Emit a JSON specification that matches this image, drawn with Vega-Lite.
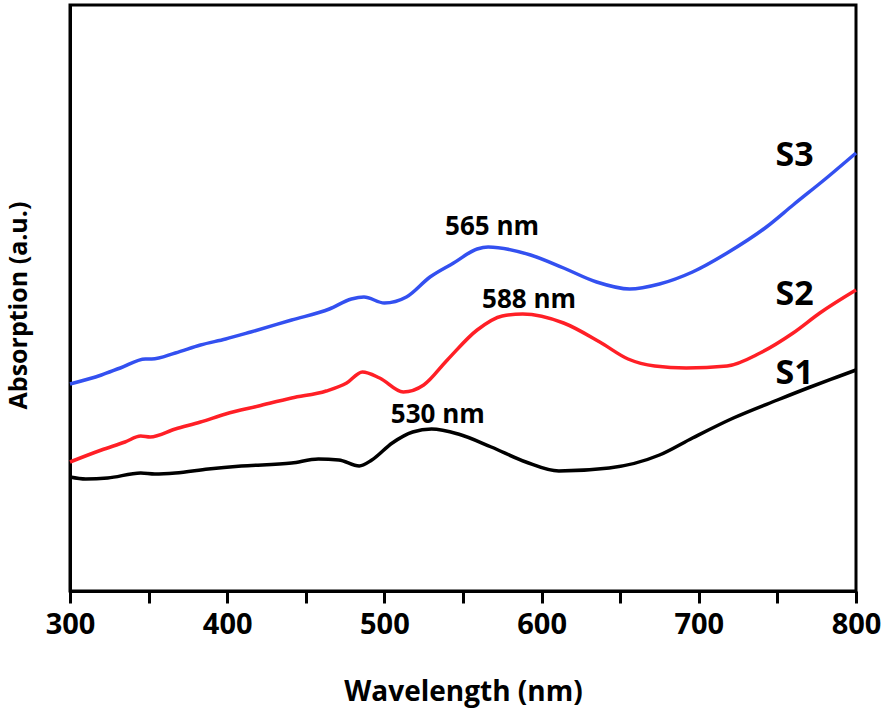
{
  "$schema": "https://vega.github.io/schema/vega-lite/v6.json",
  "width": 786,
  "height": 586,
  "autosize": {"type": "none"},
  "padding": {"left": 70, "top": 5, "right": 29, "bottom": 118},
  "background": "white",
  "config": {
    "view": {"stroke": "black", "strokeWidth": 3},
    "axis": {"grid": false, "domainColor": "black", "domainWidth": 3}
  },
  "datasets": {
    "spectra": [
      {"series": "S3", "wl": 300, "a": 2.07},
      {"series": "S3", "wl": 320, "a": 2.16},
      {"series": "S3", "wl": 332, "a": 2.23},
      {"series": "S3", "wl": 348, "a": 2.32},
      {"series": "S3", "wl": 352, "a": 2.32},
      {"series": "S3", "wl": 367, "a": 2.38},
      {"series": "S3", "wl": 383, "a": 2.46},
      {"series": "S3", "wl": 399, "a": 2.52},
      {"series": "S3", "wl": 415, "a": 2.59},
      {"series": "S3", "wl": 441, "a": 2.71},
      {"series": "S3", "wl": 465, "a": 2.82},
      {"series": "S3", "wl": 479, "a": 2.92},
      {"series": "S3", "wl": 487, "a": 2.94},
      {"series": "S3", "wl": 500, "a": 2.88},
      {"series": "S3", "wl": 514, "a": 2.94},
      {"series": "S3", "wl": 529, "a": 3.14},
      {"series": "S3", "wl": 544, "a": 3.28},
      {"series": "S3", "wl": 559, "a": 3.42},
      {"series": "S3", "wl": 566, "a": 3.44},
      {"series": "S3", "wl": 593, "a": 3.36},
      {"series": "S3", "wl": 614, "a": 3.23},
      {"series": "S3", "wl": 635, "a": 3.09},
      {"series": "S3", "wl": 656, "a": 3.02},
      {"series": "S3", "wl": 675, "a": 3.07},
      {"series": "S3", "wl": 696, "a": 3.19},
      {"series": "S3", "wl": 718, "a": 3.38},
      {"series": "S3", "wl": 743, "a": 3.64},
      {"series": "S3", "wl": 760, "a": 3.86},
      {"series": "S3", "wl": 782, "a": 4.14},
      {"series": "S3", "wl": 800, "a": 4.38},
      {"series": "S2", "wl": 300, "a": 1.29},
      {"series": "S2", "wl": 320, "a": 1.41},
      {"series": "S2", "wl": 335, "a": 1.49},
      {"series": "S2", "wl": 345, "a": 1.55},
      {"series": "S2", "wl": 351, "a": 1.54},
      {"series": "S2", "wl": 367, "a": 1.62},
      {"series": "S2", "wl": 383, "a": 1.69},
      {"series": "S2", "wl": 399, "a": 1.77},
      {"series": "S2", "wl": 420, "a": 1.85},
      {"series": "S2", "wl": 441, "a": 1.93},
      {"series": "S2", "wl": 463, "a": 2.0},
      {"series": "S2", "wl": 476, "a": 2.08},
      {"series": "S2", "wl": 486, "a": 2.19},
      {"series": "S2", "wl": 497, "a": 2.13},
      {"series": "S2", "wl": 512, "a": 1.99},
      {"series": "S2", "wl": 525, "a": 2.06},
      {"series": "S2", "wl": 540, "a": 2.31},
      {"series": "S2", "wl": 559, "a": 2.61},
      {"series": "S2", "wl": 575, "a": 2.75},
      {"series": "S2", "wl": 588, "a": 2.77},
      {"series": "S2", "wl": 614, "a": 2.68},
      {"series": "S2", "wl": 637, "a": 2.49},
      {"series": "S2", "wl": 655, "a": 2.32},
      {"series": "S2", "wl": 672, "a": 2.25},
      {"series": "S2", "wl": 692, "a": 2.23},
      {"series": "S2", "wl": 718, "a": 2.25},
      {"series": "S2", "wl": 739, "a": 2.38},
      {"series": "S2", "wl": 760, "a": 2.58},
      {"series": "S2", "wl": 777, "a": 2.78},
      {"series": "S2", "wl": 800, "a": 3.01},
      {"series": "S1", "wl": 300, "a": 1.14},
      {"series": "S1", "wl": 310, "a": 1.12},
      {"series": "S1", "wl": 324, "a": 1.13},
      {"series": "S1", "wl": 345, "a": 1.18},
      {"series": "S1", "wl": 354, "a": 1.17},
      {"series": "S1", "wl": 367, "a": 1.18},
      {"series": "S1", "wl": 388, "a": 1.22},
      {"series": "S1", "wl": 409, "a": 1.25},
      {"series": "S1", "wl": 441, "a": 1.28},
      {"series": "S1", "wl": 458, "a": 1.32},
      {"series": "S1", "wl": 471, "a": 1.31},
      {"series": "S1", "wl": 484, "a": 1.25},
      {"series": "S1", "wl": 492, "a": 1.31},
      {"series": "S1", "wl": 505, "a": 1.48},
      {"series": "S1", "wl": 518, "a": 1.59},
      {"series": "S1", "wl": 530, "a": 1.62},
      {"series": "S1", "wl": 547, "a": 1.57},
      {"series": "S1", "wl": 568, "a": 1.44},
      {"series": "S1", "wl": 590, "a": 1.29},
      {"series": "S1", "wl": 611, "a": 1.2},
      {"series": "S1", "wl": 643, "a": 1.23},
      {"series": "S1", "wl": 675, "a": 1.36},
      {"series": "S1", "wl": 696, "a": 1.53},
      {"series": "S1", "wl": 722, "a": 1.73},
      {"series": "S1", "wl": 750, "a": 1.91},
      {"series": "S1", "wl": 771, "a": 2.04},
      {"series": "S1", "wl": 788, "a": 2.14},
      {"series": "S1", "wl": 800, "a": 2.21}
    ],
    "peaks": [
      {"label": "565 nm", "wl": 568.5, "a": 3.56},
      {"label": "588 nm", "wl": 592, "a": 2.83},
      {"label": "530 nm", "wl": 534, "a": 1.68}
    ],
    "names": [
      {"label": "S3", "wl": 761, "a": 4.25},
      {"label": "S2", "wl": 761, "a": 2.86},
      {"label": "S1", "wl": 761, "a": 2.07}
    ]
  },
  "layer": [
    {
      "data": {"name": "spectra"},
      "mark": {"type": "line", "strokeWidth": 3.5, "interpolate": "monotone"},
      "encoding": {
        "x": {
          "field": "wl", "type": "quantitative",
          "scale": {"domain": [300, 800], "nice": false},
          "axis": {
            "values": [300, 350, 400, 450, 500, 550, 600, 650, 700, 750, 800],
            "labelExpr": "datum.value % 100 === 0 ? datum.label : ''",
            "tickSize": 12, "tickWidth": 3, "tickColor": "black",
            "labelFont": "Open Sans",
            "labelFontSize": 29, "labelFontWeight": "bold", "labelColor": "black",
            "labelBaseline": "alphabetic", "labelPadding": 30, "labelFlush": false, "labelOverlap": false,
            "title": "Wavelength (nm)",
            "titleFont": "Open Sans", "titleFontSize": 28, "titleFontWeight": "bold", "titleColor": "black",
            "titleBaseline": "alphabetic", "titleY": 109,
            "encode": {"ticks": {"update": {"y2": {"signal": "datum.value % 100 === 0 ? 12 : 8"}}}}
          }
        },
        "y": {
          "field": "a", "type": "quantitative",
          "scale": {"domain": [0, 5.86], "nice": false},
          "axis": {
            "ticks": false, "labels": false,
            "title": "Absorption (a.u.)",
            "titleFont": "Open Sans", "titleFontSize": 25, "titleFontWeight": "bold", "titleColor": "black",
            "titleBaseline": "alphabetic", "titleX": -44, "titleY": 300, "titleAngle": 270
          }
        },
        "color": {
          "field": "series", "type": "nominal",
          "scale": {"domain": ["S1", "S2", "S3"], "range": ["#000000", "#ff1f26", "#3350f0"]},
          "legend": null
        }
      }
    },
    {
      "data": {"name": "peaks"},
      "mark": {"type": "text", "font": "Open Sans", "fontSize": 26, "fontWeight": "bold", "baseline": "alphabetic", "align": "center", "color": "black"},
      "encoding": {
        "x": {"field": "wl", "type": "quantitative"},
        "y": {"field": "a", "type": "quantitative"},
        "text": {"field": "label"}
      }
    },
    {
      "data": {"name": "names"},
      "mark": {"type": "text", "font": "Open Sans", "fontSize": 34, "fontWeight": "bold", "baseline": "alphabetic", "align": "center", "color": "black"},
      "encoding": {
        "x": {"field": "wl", "type": "quantitative"},
        "y": {"field": "a", "type": "quantitative"},
        "text": {"field": "label"}
      }
    }
  ]
}
